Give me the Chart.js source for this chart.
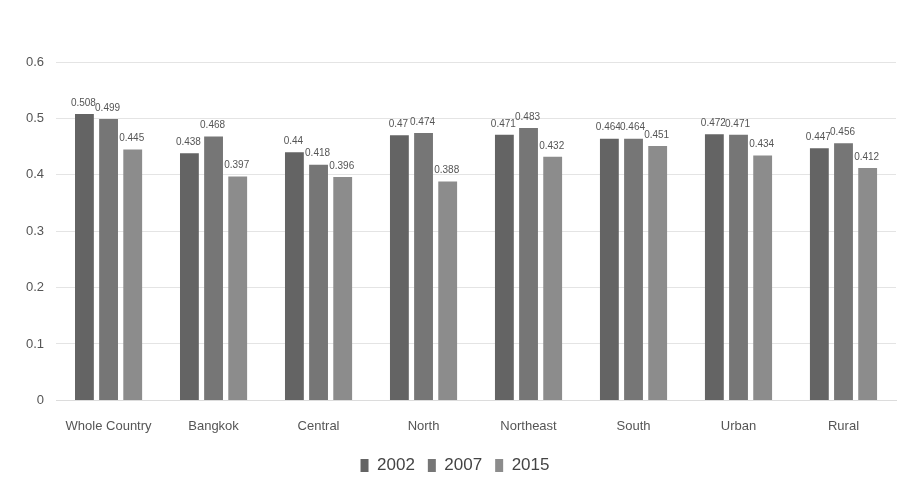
<!DOCTYPE html>
<html>
<head>
<meta charset="utf-8">
<script src="https://cdn.jsdelivr.net/npm/chart.js"></script>
<style>
  html, body { margin: 0; padding: 0; background: #fff; }
  #wrap { width: 904px; height: 484px; position: relative; }
</style>
</head>
<body>
<div id="wrap"><canvas id="giniChart"></canvas></div>
<script>
const regions = ['Whole Country', 'Bangkok', 'Central', 'North', 'Northeast', 'South', 'Urban', 'Rural'];
const years = ['2002', '2007', '2015'];
const values2002 = [0.508, 0.438, 0.44, 0.47, 0.471, 0.464, 0.472, 0.447];
const values2007 = [0.499, 0.468, 0.418, 0.474, 0.483, 0.464, 0.471, 0.456];
const values2015 = [0.445, 0.397, 0.396, 0.388, 0.432, 0.451, 0.434, 0.412];
const yTicks = [0, 0.1, 0.2, 0.3, 0.4, 0.5, 0.6];

const barColors = ['#646464', '#767676', '#8c8c8c'];
const fontFamily = '"Liberation Sans Narrow", "Liberation Sans", Arial, sans-serif';

// draws the value above each bar, no datalabels plugin offline
const valueLabels = {
    id: 'valueLabels',
    afterDatasetsDraw(chart) {
        const ctx = chart.ctx;
        ctx.save();
        ctx.font = '10px ' + fontFamily;
        ctx.fillStyle = '#555';
        ctx.textAlign = 'center';
        ctx.textBaseline = 'bottom';
        chart.data.datasets.forEach((ds, i) => {
            const meta = chart.getDatasetMeta(i);
            meta.data.forEach((bar, j) => {
                ctx.fillText(String(ds.data[j]), bar.x - 1, bar.y - 6);
            });
        });
        ctx.restore();
    }
};

const allSeries = [values2002, values2007, values2015];

const ctx = document.getElementById('giniChart').getContext('2d');
window.chart = new Chart(ctx, {
    type: 'bar',
    data: {
        labels: regions,
        datasets: years.map((y, i) => ({
            label: y,
            data: allSeries[i],
            backgroundColor: barColors[i],
            borderWidth: 0,
            barPercentage: 0.78,
            categoryPercentage: 0.69
        }))
    },
    options: {
        responsive: true,
        maintainAspectRatio: false,
        animation: false,
        layout: { padding: { top: 62, left: 14, right: 8, bottom: 0 } },
        plugins: {
            legend: {
                position: 'bottom',
                labels: {
                    boxWidth: 8,
                    boxHeight: 13,
                    padding: 13,
                    color: '#444',
                    font: { family: fontFamily, size: 17 }
                }
            },
            tooltip: { enabled: false }
        },
        scales: {
            x: {
                grid: { display: false },
                border: { color: '#dcdcdc' },
                ticks: { color: '#555', font: { family: fontFamily, size: 13 }, padding: 10 }
            },
            y: {
                min: 0,
                max: 0.6,
                afterBuildTicks(axis) {
                    axis.ticks = yTicks.map(v => ({ value: v }));
                },
                grid: { color: '#e4e4e4', drawTicks: false },
                border: { display: false },
                ticks: {
                    color: '#555',
                    font: { family: fontFamily, size: 13 },
                    padding: 12,
                    callback: v => String(v)
                }
            }
        }
    },
    plugins: [valueLabels]
});
</script>
</body>
</html>
